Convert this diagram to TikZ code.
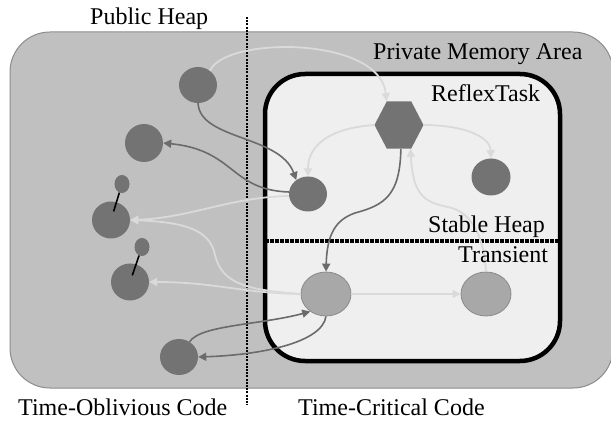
\documentclass[tikz,border=0pt]{standalone}
\usepackage{fontspec}
\setmainfont{Liberation Serif}
\usetikzlibrary{shapes.geometric,arrows.meta}
\definecolor{outerfill}{HTML}{C0C0C0}
\definecolor{outerdraw}{HTML}{8C8C8C}
\definecolor{innerfill}{HTML}{EFEFEF}
\definecolor{darkfill}{HTML}{737373}
\definecolor{lightfill}{HTML}{A8A8A8}
\definecolor{lightdraw}{HTML}{8A8A8A}
\definecolor{darkline}{HTML}{6B6B6B}
\definecolor{paleline}{HTML}{DADADA}
\begin{document}
\begin{tikzpicture}[x=1pt,y=-1pt,
  darknode/.style={ellipse, fill=darkfill, draw=none, inner sep=0pt},
  lightnode/.style={ellipse, fill=lightfill, draw=lightdraw, line width=0.8pt, inner sep=0pt, minimum width=50pt, minimum height=44pt},
  smallnode/.style={ellipse, fill=darkfill, draw=none, inner sep=0pt, minimum width=15pt, minimum height=18pt},
  darkconn/.style={draw=darkline, line width=1.6pt, -{Triangle[length=8pt,width=8pt]}},
  paleconn/.style={draw=paleline, line width=1.8pt, -{Triangle[length=8pt,width=8pt]}},
  stick/.style={draw=black, line width=1.6pt},
  txt/.style={font=\fontsize{24}{28}\selectfont, anchor=base west, inner sep=0pt}
]
\useasboundingbox (0,0) rectangle (611,422);
% regions
\draw[fill=outerfill, draw=outerdraw, line width=1pt, rounded corners=40pt] (10,32) rectangle (613,388);
\draw[fill=innerfill, draw=black, line width=4.5pt, rounded corners=40pt] (265,74) rectangle (560,361);
\draw[line width=3.2pt, dash pattern=on 3.5pt off 1.5pt] (265,241) -- (558,241);
\draw[line width=1.5pt, dash pattern=on 2pt off 1.2pt] (247,17) -- (247,405);
% nodes
\node[darknode, minimum width=38pt, minimum height=36pt] (n1) at (198,85) {};
\node[darknode, minimum width=38pt, minimum height=38pt] (n2) at (144,143) {};
\node[smallnode] (s1) at (122,184) {};
\node[darknode, minimum width=38pt, minimum height=37pt] (n3) at (111,220) {};
\node[smallnode] (s2) at (142,247) {};
\node[darknode, minimum width=38pt, minimum height=37pt] (n4) at (130,282) {};
\node[darknode, minimum width=38pt, minimum height=36pt] (n5) at (179,357) {};
\node[darknode, minimum width=38pt, minimum height=35pt] (n6) at (308,194) {};
\node[darknode, minimum width=39pt, minimum height=37pt] (n7) at (491,177) {};
\begin{scope}[shift={(399,125)}, yscale=1.11]
\node[regular polygon, regular polygon sides=6, minimum size=49pt, inner sep=0pt, fill=darkfill, transform shape] (hex) at (0,0) {};
\end{scope}
\node[lightnode] (t1) at (326,294) {};
\node[lightnode] (t2) at (486,294) {};
% sticks
\draw[stick, shorten >=9pt] (s1) -- (n3.center);
\draw[stick, shorten >=7pt] (s2) -- (n4.center);
% connectors
\draw[paleconn] (n1.50) .. controls (225,36) and (380,36) .. (hex.120);
\draw[darkconn] (n1.south) .. controls (200,140) and (280,135) .. (n6.130);
\draw[darkconn] (n6.174) .. controls (230,190) and (235,150) .. (n2.east);
\draw[paleconn] (hex.west) .. controls (330,128) and (308,145) .. (n6.north);
\draw[paleconn] (hex.east) .. controls (460,125) and (490,135) .. (n7.north);
\draw[darkconn] (hex.-85) .. controls (400,195) and (385,205) .. (355,213) .. controls (335,220) and (327,235) .. (t1.north);
\draw[paleconn] (t2.north) .. controls (485,245) and (475,212) .. (448,207) .. controls (420,202) and (413,190) .. (hex.-62);
\draw[paleconn] (t1) -- (t2);
\draw[paleconn] (t1.west) .. controls (250,290) and (222,285) .. (215,255) .. controls (210,228) and (180,222) .. (n3.east);
\draw[paleconn] (t1.west) .. controls (240,293) and (215,282) .. (n4.east);
\draw[paleconn] (n6.186) .. controls (230,197) and (190,218) .. (n3.east);
\draw[darkconn] (n5.55) .. controls (200,325) and (260,325) .. (t1.228);
\draw[darkconn] (t1.south) .. controls (322,343) and (260,355) .. (n5.east);
% texts
\node[txt] (tpub) at (90,25) {Public Heap};
\node[txt] (tpriv) at (373,60) {Private Memory Area};
\node[txt] (trefl) at (431,102) {ReflexTask};
\node[txt] (tstab) at (428,233) {Stable Heap};
\node[txt] (ttran) at (458,263) {Transient};
\node[txt] (tobl) at (18,415) {Time-Oblivious Code};
\node[txt] (tcrit) at (298,415) {Time-Critical Code};
\end{tikzpicture}
\end{document}
